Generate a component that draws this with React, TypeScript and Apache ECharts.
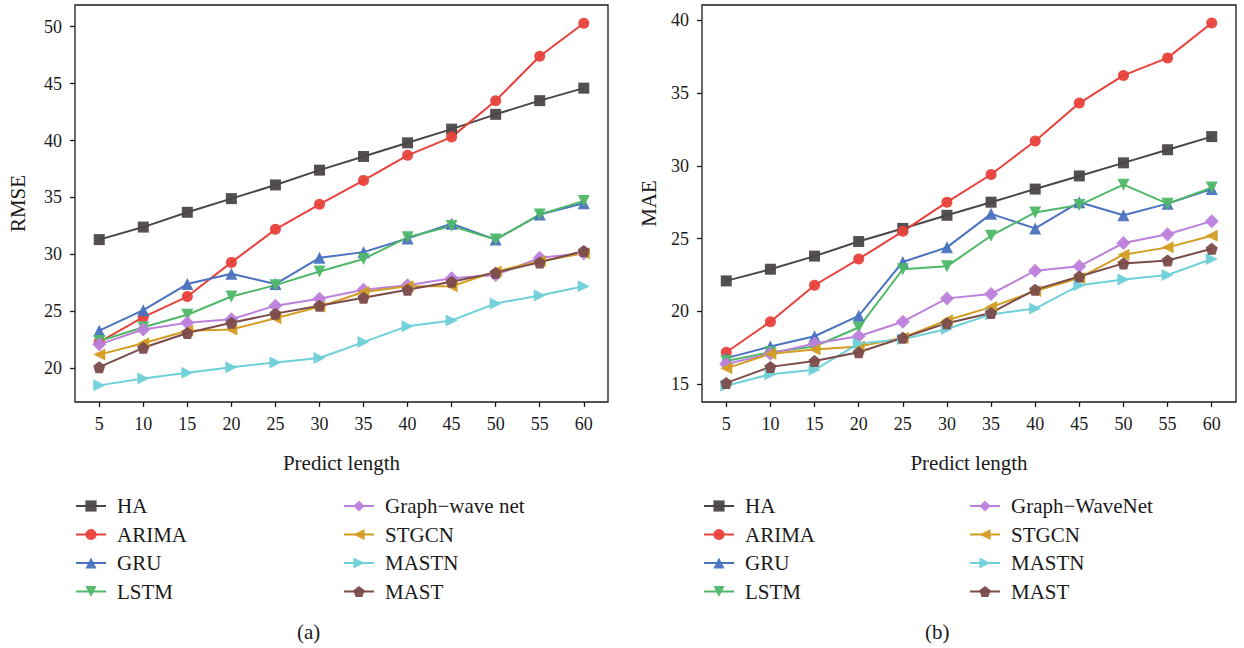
import React, { useEffect, useRef } from "react";
import * as echarts from "echarts";

const predictLength = [5, 10, 15, 20, 25, 30, 35, 40, 45, 50, 55, 60];
const tickLabels = [5, 10, 15, 20, 25, 30, 35, 40, 45, 50, 55, 60];
const rmseTicks = [20, 25, 30, 35, 40, 45, 50];
const maeTicks = [15, 20, 25, 30, 35, 40];

const seriesNamesA = ["HA", "ARIMA", "GRU", "LSTM", "Graph\u2212wave net", "STGCN", "MASTN", "MAST"];
const seriesNamesB = ["HA", "ARIMA", "GRU", "LSTM", "Graph\u2212WaveNet", "STGCN", "MASTN", "MAST"];

// (a) RMSE
const rmseHA = [31.3, 32.4, 33.7, 34.9, 36.1, 37.4, 38.6, 39.8, 41.0, 42.3, 43.5, 44.6];
const rmseARIMA = [22.3, 24.5, 26.3, 29.3, 32.2, 34.4, 36.5, 38.7, 40.3, 43.5, 47.4, 50.3];
const rmseGRU = [23.3, 25.1, 27.4, 28.3, 27.4, 29.7, 30.2, 31.4, 32.7, 31.3, 33.5, 34.5];
const rmseLSTM = [22.4, 23.6, 24.7, 26.3, 27.3, 28.5, 29.6, 31.5, 32.5, 31.3, 33.5, 34.7];
const rmseGraphWave = [22.1, 23.4, 24.0, 24.3, 25.5, 26.1, 26.9, 27.3, 27.9, 28.2, 29.7, 30.1];
const rmseSTGCN = [21.2, 22.2, 23.3, 23.4, 24.4, 25.4, 26.7, 27.2, 27.2, 28.5, 29.4, 30.1];
const rmseMASTN = [18.5, 19.1, 19.6, 20.1, 20.5, 20.9, 22.3, 23.7, 24.2, 25.7, 26.4, 27.2];
const rmseMAST = [20.1, 21.8, 23.1, 24.0, 24.8, 25.5, 26.2, 26.9, 27.6, 28.4, 29.3, 30.3];

// (b) MAE
const maeHA = [22.1, 22.9, 23.8, 24.8, 25.7, 26.6, 27.5, 28.4, 29.3, 30.2, 31.1, 32.0];
const maeARIMA = [17.2, 19.3, 21.8, 23.6, 25.5, 27.5, 29.4, 31.7, 34.3, 36.2, 37.4, 39.8];
const maeGRU = [16.8, 17.6, 18.3, 19.7, 23.4, 24.4, 26.7, 25.7, 27.5, 26.6, 27.4, 28.4];
const maeLSTM = [16.6, 17.2, 17.6, 18.9, 22.9, 23.1, 25.2, 26.8, 27.3, 28.7, 27.4, 28.5];
const maeGraphWave = [16.4, 17.1, 17.8, 18.3, 19.3, 20.9, 21.2, 22.8, 23.1, 24.7, 25.3, 26.2];
const maeSTGCN = [16.1, 17.1, 17.4, 17.6, 18.2, 19.4, 20.3, 21.4, 22.3, 23.9, 24.4, 25.2];
const maeMASTN = [14.9, 15.7, 16.0, 17.8, 18.1, 18.8, 19.8, 20.2, 21.8, 22.2, 22.5, 23.6];
const maeMAST = [15.1, 16.2, 16.6, 17.2, 18.2, 19.2, 19.9, 21.5, 22.4, 23.3, 23.5, 24.3];

const rmseData = [rmseHA, rmseARIMA, rmseGRU, rmseLSTM, rmseGraphWave, rmseSTGCN, rmseMASTN, rmseMAST];
const maeData = [maeHA, maeARIMA, maeGRU, maeLSTM, maeGraphWave, maeSTGCN, maeMASTN, maeMAST];

const colors = ["#4b4747", "#e8413b", "#4a72c0", "#4fb868", "#bd80dc", "#d39d22", "#6fd0d8", "#7b4b4a"];
const pentagon = "path://M0,-1 L0.951,-0.309 L0.588,0.809 L-0.588,0.809 L-0.951,-0.309 Z";
const symbols = ["rect", "circle", "triangle", "triangle", "diamond", "triangle", "triangle", pentagon];
const rotations = [0, 0, 0, 180, 0, 90, -90, 0];
const sizes = [11, 11, 12, 12, 14, 12, 12, 12];

const FONT = "'Liberation Serif', 'DejaVu Serif', serif";
const INK = "#1a1a1a";

export default function App() {
  const ref = useRef<HTMLDivElement>(null);
  useEffect(() => {
    if (!ref.current) return;
    const chart = echarts.init(ref.current, undefined, { renderer: "svg" });

    const xAxisCommon = (gridIndex: number) => ({
      type: "value",
      gridIndex,
      min: 2.25,
      max: 62.75,
      name: "Predict length",
      nameLocation: "middle",
      nameGap: 50,
      nameTextStyle: { fontFamily: FONT, fontSize: 21, color: INK },
      axisLine: { show: false },
      axisTick: { show: true, length: 5, customValues: tickLabels, lineStyle: { color: INK, width: 1.3 } },
      axisLabel: { customValues: tickLabels, margin: 13, fontFamily: FONT, fontSize: 18, color: INK },
      splitLine: { show: false },
    });
    const yAxisCommon = (gridIndex: number, name: string, min: number, max: number, ticks: number[], gap: number) => ({
      type: "value",
      gridIndex,
      min,
      max,
      name,
      nameLocation: "middle",
      nameGap: gap,
      nameTextStyle: { fontFamily: FONT, fontSize: 21, color: INK },
      axisLine: { show: false },
      axisTick: { show: true, length: 5, customValues: ticks, lineStyle: { color: INK, width: 1.3 } },
      axisLabel: { customValues: ticks, margin: 13, fontFamily: FONT, fontSize: 18, color: INK },
      splitLine: { show: false },
    });

    const makeSeries = (names: string[], data: number[][], idx: number) =>
      names.map((n, i) => ({
        type: "line",
        name: n,
        xAxisIndex: idx,
        yAxisIndex: idx,
        data: predictLength.map((x, k) => [x, data[i][k]]),
        symbol: symbols[i],
        symbolRotate: rotations[i],
        symbolSize: sizes[i],
        showAllSymbol: true,
        color: colors[i],
        lineStyle: { width: 2, color: colors[i] },
        itemStyle: { color: colors[i], opacity: 0.95 },
        emphasis: { disabled: true },
      }));

    const legendCommon = {
      orient: "vertical",
      padding: 0,
      itemWidth: 30,
      itemHeight: 14,
      itemGap: 7.5,
      selectedMode: false,
      textStyle: { fontFamily: FONT, fontSize: 21, color: INK, lineHeight: 21, padding: [0, 0, 0, 6] },
    };

    chart.setOption({
      animation: false,
      backgroundColor: "#ffffff",
      textStyle: { fontFamily: FONT },
      grid: [
        { left: 75, top: 5, width: 533, height: 397, show: true, borderColor: INK, borderWidth: 1.3, backgroundColor: "transparent" },
        { left: 702, top: 5, width: 534, height: 397, show: true, borderColor: INK, borderWidth: 1.3, backgroundColor: "transparent" },
      ],
      xAxis: [xAxisCommon(0), xAxisCommon(1)],
      yAxis: [
        yAxisCommon(0, "RMSE", 17.04, 51.9, rmseTicks, 47),
        yAxisCommon(1, "MAE", 13.79, 41.03, maeTicks, 43),
      ],
      legend: [
        { ...legendCommon, left: 75, top: 495.5, data: seriesNamesA.slice(0, 4) },
        { ...legendCommon, left: 343, top: 495.5, data: seriesNamesA.slice(4) },
        { ...legendCommon, left: 703, top: 495.5, data: seriesNamesB.slice(0, 4) },
        { ...legendCommon, left: 969, top: 495.5, data: seriesNamesB.slice(4) },
      ],
      graphic: [
        { type: "text", left: 297, top: 621, style: { text: "(a)", font: `21px ${FONT}`, fill: INK } },
        { type: "text", left: 925, top: 621, style: { text: "(b)", font: `21px ${FONT}`, fill: INK } },
      ],
      series: [...makeSeries(seriesNamesA, rmseData, 0), ...makeSeries(seriesNamesB, maeData, 1)],
    });
    return () => chart.dispose();
  }, []);
  return (
    <div
      ref={ref}
      style={{ position: "absolute", left: 0, top: 0, width: 1244, height: 648, background: "#fff" }}
    />
  );
}
